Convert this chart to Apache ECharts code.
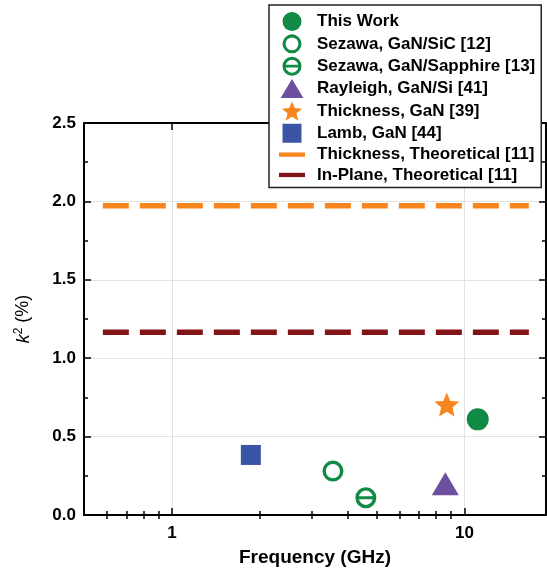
<!DOCTYPE html>
<html>
<head>
<meta charset="utf-8">
<script src="https://cdn.jsdelivr.net/npm/echarts@6/dist/echarts.min.js"></script>
<style>
  html, body { margin: 0; padding: 0; background: #fff; }
  #chart { width: 547px; height: 576px; }
</style>
</head>
<body>
<div id="chart"></div>
<script>
// data: [frequency GHz, k2 %]
const thisWork = [[11.1, 0.61]]
const sezawaSiC = [[3.55, 0.28]]
const sezawaSapphire = [[4.6, 0.11]]
const rayleighSi = [[8.6, 0.2]]
const thicknessGaN = [[8.7, 0.705]]
const lambGaN = [[1.86, 0.383]]
const thicknessTheory = [[0.58, 1.973], [16.6, 1.973]]
const inPlaneTheory = [[0.58, 1.166], [16.6, 1.166]]

const xMajorTicks = [1, 10]
const xMinorTicks = [0.6, 0.7, 0.8, 0.9, 2, 3, 4, 5, 6, 7, 8, 9]

const GREEN = '#108a44'
const PURPLE = '#6c509f'
const ORANGE = '#f7861e'
const BLUE = '#3a55a4'
const DARKRED = '#821418'

// ring symbols (outer clockwise, inner counter-clockwise -> hole)
const ringPath = 'path://M0,-10A10,10,0,1,1,0,10A10,10,0,1,1,0,-10Z' +
  'M0,-6.8A6.8,6.8,0,1,0,0,6.8A6.8,6.8,0,1,0,0,-6.8Z'
const ringBarPath = ringPath + 'M-7,-1.4L7,-1.4L7,1.4L-7,1.4Z'
const starPath = 'path://M0,-10L2.645,-3.641L9.511,-3.09L4.28,1.391L5.878,8.09L0,4.5' +
  'L-5.878,8.09L-4.28,1.391L-9.511,-3.09L-2.645,-3.641Z'
const barIcon = 'path://M0,0h27v4.5h-27z'

const font = 'Liberation Sans, Arial, sans-serif'

const chart = echarts.init(document.getElementById('chart'))

const xBase = {
  type: 'log', min: 0.5, max: 19, logBase: 10,
  axisLine: { show: false },
  axisLabel: { show: false },
  splitLine: { show: false },
  axisTick: { inside: true, length: 4, lineStyle: { color: '#000', width: 1.5 }, customValues: xMinorTicks }
}
const yBase = {
  type: 'value', min: 0, max: 2.5, interval: 0.5,
  axisLine: { show: true, onZero: false, lineStyle: { color: '#000', width: 2 } },
  axisLabel: { show: false },
  splitLine: { show: false },
  axisTick: { inside: true, length: 7, lineStyle: { color: '#000', width: 1.5 } },
  minorTick: { show: true, splitNumber: 2, length: 4, lineStyle: { color: '#000', width: 1.5 } }
}

chart.setOption({
  animation: false,
  backgroundColor: '#fff',
  grid: { left: 84, right: 1, top: 123, bottom: 61 },
  legend: {
    orient: 'vertical',
    left: 269, top: 5,
    padding: [7, 6, 4, 10],
    itemWidth: 26, itemHeight: 19, itemGap: 3.35,
    backgroundColor: '#fff',
    borderColor: '#222', borderWidth: 1.5,
    textStyle: { fontFamily: font, fontSize: 17, fontWeight: 'bold', color: '#000', padding: [0, 0, 0, 7] },
    data: [
      { name: 'This Work' },
      { name: 'Sezawa, GaN/SiC [12]' },
      { name: 'Sezawa, GaN/Sapphire [13]' },
      { name: 'Rayleigh, GaN/Si [41]', icon: 'path://M0,20L12,0L24,20Z' },
      { name: 'Thickness, GaN [39]' },
      { name: 'Lamb, GaN [44]', icon: 'path://M0,0h17v17h-17z' },
      { name: 'Thickness, Theoretical [11]', icon: barIcon },
      { name: 'In-Plane, Theoretical [11]', icon: barIcon }
    ]
  },
  xAxis: [
    {
      type: 'log', min: 0.5, max: 19, logBase: 10, position: 'bottom',
      name: 'Frequency (GHz)', nameLocation: 'middle', nameGap: 33,
      nameTextStyle: { fontFamily: font, fontSize: 19, fontWeight: 'bold', color: '#000' },
      axisLine: { show: true, onZero: false, lineStyle: { color: '#000', width: 2 } },
      axisTick: { inside: true, length: 7, lineStyle: { color: '#000', width: 1.5 }, customValues: xMajorTicks },
      axisLabel: { customValues: xMajorTicks, margin: 10, fontFamily: font, fontSize: 17, fontWeight: 'bold', color: '#000' },
      splitLine: { show: true, lineStyle: { color: '#e2e2e2', width: 1 } }
    },
    Object.assign({}, xBase, { position: 'bottom' }),
    Object.assign({}, xBase, {
      position: 'top',
      axisLine: { show: true, onZero: false, lineStyle: { color: '#000', width: 2 } },
      axisTick: { inside: true, length: 7, lineStyle: { color: '#000', width: 1.5 }, customValues: xMajorTicks }
    }),
    Object.assign({}, xBase, { position: 'top' })
  ],
  yAxis: [
    Object.assign({}, yBase, {
      position: 'left',
      name: '{i|k}{s|2} (%)', nameLocation: 'middle', nameGap: 50, nameRotate: 90,
      nameTextStyle: {
        fontFamily: font, fontSize: 18, color: '#000',
        rich: {
          i: { fontFamily: font, fontSize: 18, fontStyle: 'italic', color: '#000' },
          s: { fontFamily: font, fontSize: 12, color: '#000', verticalAlign: 'top', padding: [0, 0, 9, 0] }
        }
      },
      axisLabel: { show: true, margin: 8, fontFamily: font, fontSize: 17, fontWeight: 'bold', color: '#000',
        formatter: v => v.toFixed(1) },
      splitLine: { show: true, lineStyle: { color: '#e2e2e2', width: 1 } }
    }),
    Object.assign({}, yBase, { position: 'right' })
  ],
  series: [
    { name: 'This Work', type: 'scatter', data: thisWork, symbol: 'circle', symbolSize: 22,
      itemStyle: { color: GREEN, opacity: 1 }, z: 5 },
    { name: 'Sezawa, GaN/SiC [12]', type: 'scatter', data: sezawaSiC, symbol: ringPath, symbolSize: 21,
      itemStyle: { color: GREEN, opacity: 1 }, z: 5 },
    { name: 'Sezawa, GaN/Sapphire [13]', type: 'scatter', data: sezawaSapphire, symbol: ringBarPath, symbolSize: 21,
      itemStyle: { color: GREEN, opacity: 1 }, z: 5 },
    { name: 'Rayleigh, GaN/Si [41]', type: 'scatter', data: rayleighSi, symbol: 'triangle', symbolSize: [27, 23],
      itemStyle: { color: PURPLE, opacity: 1 }, z: 5 },
    { name: 'Thickness, GaN [39]', type: 'scatter', data: thicknessGaN, symbol: starPath, symbolSize: [25, 24],
      itemStyle: { color: ORANGE, opacity: 1 }, z: 5 },
    { name: 'Lamb, GaN [44]', type: 'scatter', data: lambGaN, symbol: 'rect', symbolSize: 20,
      itemStyle: { color: BLUE, opacity: 1 }, z: 5 },
    { name: 'Thickness, Theoretical [11]', type: 'line', data: thicknessTheory, symbol: 'none',
      color: ORANGE, lineStyle: { color: ORANGE, width: 5.5, type: [26, 11], cap: 'butt' } },
    { name: 'In-Plane, Theoretical [11]', type: 'line', data: inPlaneTheory, symbol: 'none',
      color: DARKRED, lineStyle: { color: DARKRED, width: 5.5, type: [26, 11], cap: 'butt' } }
  ]
})
</script>
</body>
</html>
